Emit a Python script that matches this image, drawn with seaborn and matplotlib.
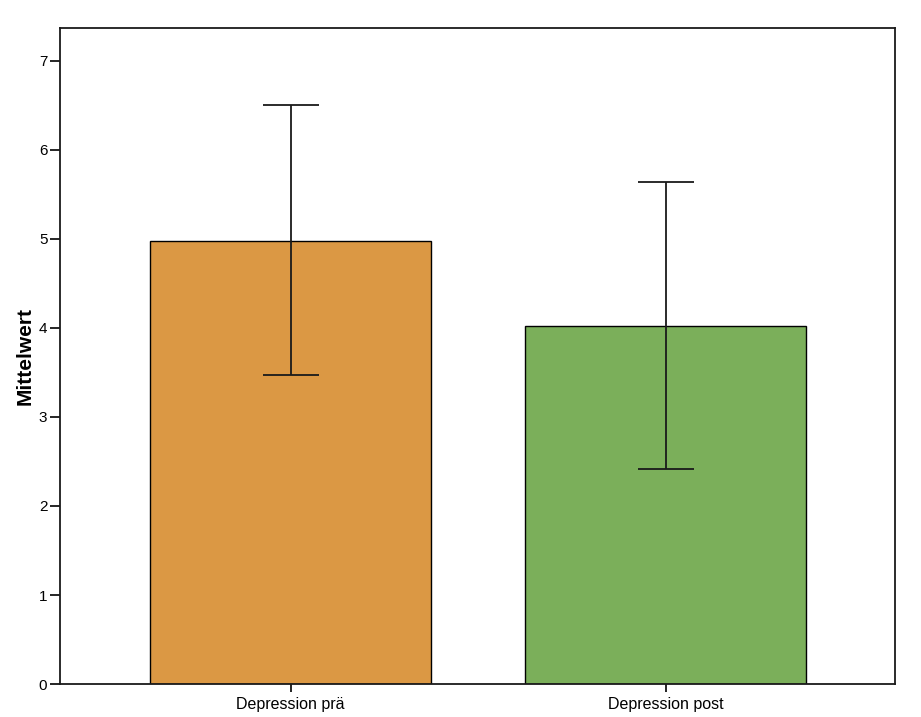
import matplotlib
matplotlib.use("Agg")
import matplotlib.pyplot as plt
import seaborn as sns
import numpy as np
import pandas as pd

categories = ["Depression prä", "Depression post"]
means = [4.98, 4.02]
ci_lower = [3.47, 2.42]
ci_upper = [6.50, 5.64]
colors = ["#DB9844", "#7BAF5A"]
yticks = [0, 1, 2, 3, 4, 5, 6, 7]

sns.set_style("white")
plt.rcParams["font.family"] = ["Liberation Sans", "DejaVu Sans"]
plt.rcParams["text.color"] = "black"
plt.rcParams["axes.labelcolor"] = "black"
plt.rcParams["xtick.color"] = "black"
plt.rcParams["ytick.color"] = "black"

fig = plt.figure(figsize=(9.21, 7.17), dpi=100)
ax = fig.add_axes([0.065, 0.046, 0.907, 0.915])

df = pd.DataFrame({"cat": categories, "mean": means})
sns.barplot(data=df, x="cat", y="mean", hue="cat", palette=colors, legend=False,
            width=0.75, edgecolor="black", linewidth=1.0, ax=ax, errorbar=None,
            saturation=1)

m = np.array(means)
yerr = np.vstack([m - np.array(ci_lower), np.array(ci_upper) - m])
ax.errorbar(np.arange(len(categories)), m, yerr=yerr, fmt="none", ecolor="#1a1a1a",
            elinewidth=1.3, capsize=20, capthick=1.3, zorder=5)

ax.set_xlim(-0.615, 1.612)
ax.set_ylim(0, 7.37)
ax.set_yticks(yticks)
ax.set_yticklabels([str(t) for t in yticks], fontsize=11)
ax.tick_params(axis="x", labelsize=11.5, direction="out", length=6, width=1.2, bottom=True, pad=3)
ax.tick_params(axis="y", direction="out", length=7, width=1.2, left=True, pad=2)
ax.set_xlabel("")
ax.set_ylabel("Mittelwert", fontsize=15, fontweight="bold", labelpad=3)
for s in ax.spines.values():
    s.set_visible(True)
    s.set_color("#1a1a1a")
    s.set_linewidth(1.3)

fig.savefig("out.png", dpi=100)
